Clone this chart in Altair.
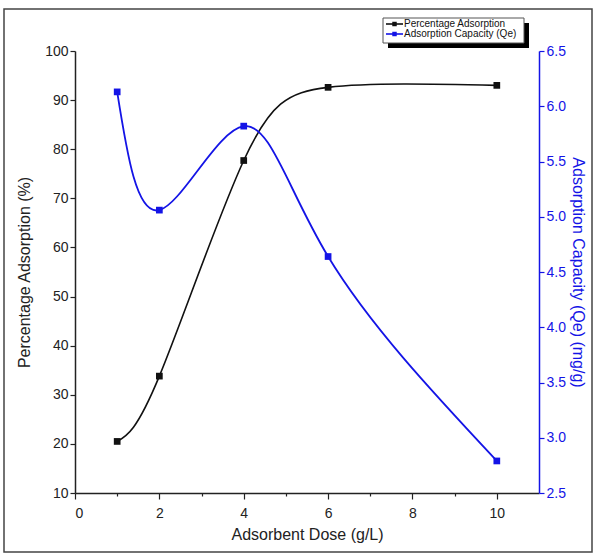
import altair as alt
import pandas as pd

dose = [1, 2, 4, 6, 10]
pct_adsorption = [20.5, 33.8, 77.7, 92.6, 93.0]
capacity_qe = [6.13, 5.06, 5.82, 4.64, 2.79]

series_names = ["Percentage Adsorption", "Adsorption Capacity (Qe)"]
series_colors = ["#111111", "#1414e6"]

x_ticks = list(range(0, 11))
left_ticks = list(range(10, 101, 5))
right_ticks = [2.5 + 0.25 * i for i in range(17)]

df = pd.DataFrame({"dose": dose, "pct": pct_adsorption, "qe": capacity_qe})

FONT = "Liberation Sans"
W, H = 464, 442
BLACK, BLUE = series_colors

x_enc = alt.X(
    "dose:Q",
    scale=alt.Scale(domain=[0, 11], nice=False, zero=False),
    axis=alt.Axis(
        title="Adsorbent Dose (g/L)",
        values=x_ticks,
        labelExpr="datum.value % 2 === 0 ? datum.label : ''",
        tickSize={"condition": {"test": "datum.value % 2 === 0", "value": 6}, "value": 3},
        labelPadding=7,
        titlePadding=6,
        grid=False,
        domainColor="#222",
        tickColor="#222",
        labelColor="#222",
        titleColor="#222",
        labelFontSize=14,
        titleFontSize=16,
        titleFontWeight="normal",
        labelFont=FONT,
        titleFont=FONT,
        domainWidth=1.5,
        tickWidth=1.2,
    ),
)

left = alt.Chart(df)
black_line = left.mark_line(color=BLACK, strokeWidth=1.6, interpolate="natural").encode(
    x=x_enc,
    y=alt.Y(
        "pct:Q",
        scale=alt.Scale(domain=[10, 100], nice=False, zero=False),
        axis=alt.Axis(
            title="Percentage Adsorption (%)",
            orient="left",
            values=left_ticks,
            labelExpr="datum.value % 10 === 0 ? datum.label : ''",
            tickSize={"condition": {"test": "datum.value % 10 === 0", "value": 5}, "value": 3},
            labelPadding=2,
            titlePadding=12,
            grid=False,
            domainColor="#222",
            tickColor="#222",
            labelColor="#222",
            titleColor="#222",
            labelFontSize=14,
            titleFontSize=16,
            titleFontWeight="normal",
            labelFont=FONT,
            titleFont=FONT,
            domainWidth=1.5,
            tickWidth=1.2,
        ),
    ),
)
black_pts = left.mark_square(color=BLACK, size=45, opacity=1, filled=True).encode(
    x="dose:Q", y="pct:Q"
)
left_layer = alt.layer(black_line, black_pts)

right = alt.Chart(df)
blue_line = right.mark_line(color=BLUE, strokeWidth=1.8, interpolate="natural").encode(
    x="dose:Q",
    y=alt.Y(
        "qe:Q",
        scale=alt.Scale(domain=[2.5, 6.5], nice=False, zero=False),
        axis=alt.Axis(
            title="Adsorption Capacity (Qe) (mg/g)",
            orient="right",
            values=right_ticks,
            labelExpr="(datum.value * 4) % 2 === 0 ? format(datum.value, '.1f') : ''",
            tickSize={"condition": {"test": "(datum.value * 4) % 2 === 0", "value": 5}, "value": 3},
            labelPadding=2,
            titlePadding=4,
            titleAngle=90,
            grid=False,
            domainColor=BLUE,
            tickColor=BLUE,
            labelColor=BLUE,
            titleColor=BLUE,
            labelFontSize=14,
            titleFontSize=16,
            titleFontWeight="normal",
            labelFont=FONT,
            titleFont=FONT,
            domainWidth=1.5,
            tickWidth=1.2,
        ),
    ),
)
blue_pts = right.mark_square(color=BLUE, size=45, opacity=1, filled=True).encode(
    x="dose:Q", y="qe:Q"
)
right_layer = alt.layer(blue_line, blue_pts)

# decorative frame and legend
one = alt.Data(values=[{}])
frame = alt.Chart(one).mark_rect(fill=None, stroke="#444", strokeWidth=1.5).encode(
    x=alt.value(-71), x2=alt.value(517), y=alt.value(-42), y2=alt.value(501)
)
shadow = alt.Chart(one).mark_rect(fill="#000").encode(
    x=alt.value(313), x2=alt.value(454), y=alt.value(-28), y2=alt.value(-3)
)
box = alt.Chart(one).mark_rect(fill="white", stroke="#555", strokeWidth=1).encode(
    x=alt.value(308), x2=alt.value(449), y=alt.value(-33), y2=alt.value(-8)
)
leg_df = pd.DataFrame({"name": series_names, "color": series_colors, "row": [0, 1]})
leg = alt.Chart(leg_df).transform_calculate(
    ypos="-27 + datum.row * 10"
)
leg_line = leg.mark_rule(strokeWidth=1.6).encode(
    x=alt.value(311), x2=alt.value(328),
    y=alt.Y("ypos:Q", scale=None),
    color=alt.Color("color:N", scale=None),
)
leg_sq = leg.mark_square(size=20, opacity=1, filled=True).encode(
    x=alt.value(319.5),
    y=alt.Y("ypos:Q", scale=None),
    color=alt.Color("color:N", scale=None),
)
leg_txt = leg.mark_text(align="left", baseline="middle", fontSize=10, font=FONT, color="#111").encode(
    x=alt.value(329),
    y=alt.Y("ypos:Q", scale=None),
    text="name:N",
)

main = alt.layer(left_layer, right_layer).resolve_scale(y="independent")

chart = alt.layer(
    frame, main, shadow, box, leg_line, leg_sq, leg_txt
).resolve_scale(y="independent").properties(
    width=W,
    height=H,
    autosize=alt.AutoSizeParams(type="none"),
    padding={"left": 75, "top": 51, "right": 55, "bottom": 63},
    background="white",
).configure_view(stroke=None)

chart.save("out.html", embed_options={"renderer": "svg", "actions": False})
